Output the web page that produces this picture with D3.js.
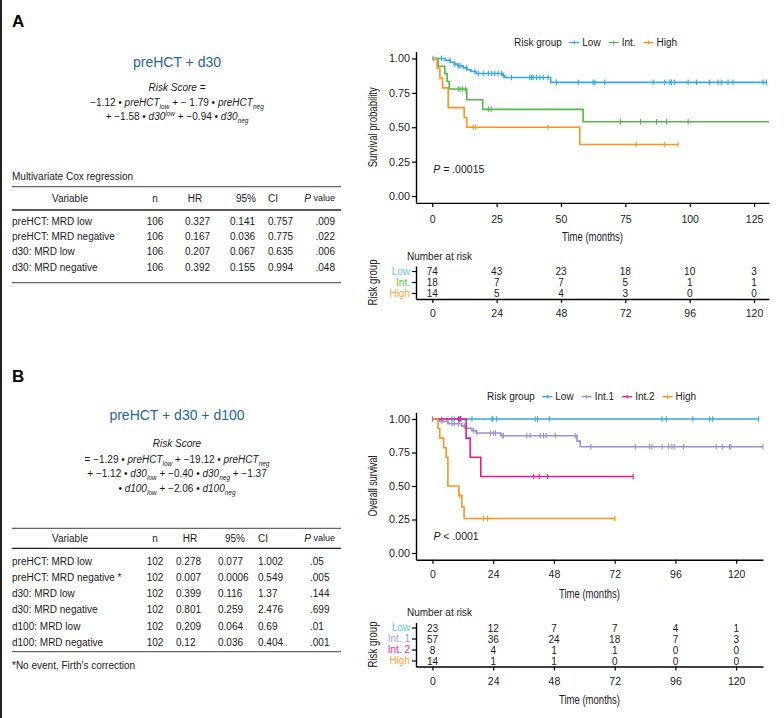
<!DOCTYPE html>
<html><head><meta charset="utf-8">
<script src="https://cdn.jsdelivr.net/npm/d3@7"></script>
<style>
body{margin:0;background:#fff}
svg{display:block}
text{font-family:"Liberation Sans",Arial,Helvetica,sans-serif;fill:#1a1a1a}
</style>
</head><body>
<svg id="c" width="784" height="718"></svg>
<script>
// ---------------- DATA ----------------
const kmTicksA = [0, 25, 50, 75, 100, 125];
const kmTicksB = [0, 24, 48, 72, 96, 120];
const riskTimes = [0, 24, 48, 72, 96, 120];
const survTicks = [0, 0.25, 0.5, 0.75, 1];

// Panel A groups
const groupsA = ["Low", "Int.", "High"];
const riskLabelsA = ["Low", "Int.", "High"];
const stepsA_Low = [[0,1],[5,0.986],[7,0.973],[8.5,0.959],[10,0.946],[12,0.932],[13.5,0.918],[15,0.905],[17,0.891],[27.5,0.876],[28.2,0.862],[46,0.826]];
const censA_Low = [0.4,3.6,6.9,8.8,10.1,10.8,13.4,16.6,17.9,19.8,21.8,23.1,24.3,25.6,26.9,27.6,30.8,37.9,38.6,39.2,40.5,41.8,43.1,45.0,48.3,56.7,62.5,63.2,67.0,85.8,90.3,92.3,92.9,94.2,99.4,102.6,107.8,111.0,112.3,114.9,116.8,128.5,129.8];
const stepsA_Int = [[0,1],[2.3,0.944],[4.9,0.889],[5.8,0.833],[6.6,0.778],[13.4,0.700],[19.6,0.630],[58.6,0.540]];
const censA_Int = [10.1,10.8,11.8,13.0,21.8,22.9,73.1,80.9,87.1,91.0,99.4];
const stepsA_High = [[0,1],[1.9,0.929],[3.0,0.857],[4.0,0.786],[6.2,0.643],[12.4,0.571],[13.4,0.500],[57.3,0.375]];
const censA_High = [15.9,16.9,45.0,79.2,90.3,95.5];
const endA = [129.8, 130.8, 95.5];
const riskA_Low = [74, 43, 23, 18, 10, 3];
const riskA_Int = [18, 7, 7, 5, 1, 1];
const riskA_High = [14, 5, 4, 3, 0, 0];

// Panel B groups
const groupsB = ["Low", "Int.1", "Int.2", "High"];
const riskLabelsB = ["Low", "Int. 1", "Int. 2", "High"];
const stepsB_Low = [[0,1]];
const censB_Low = [0,3.7,7.7,8.6,10.7,11.2,15.6,23.5,23.9,25.4,40.6,41.5,46.2,90.7,92.4,102.9,109.5,110.7,128.9];
const stepsB_Int1 = [[0,1],[2.8,0.982],[6.3,0.965],[11.6,0.947],[13.3,0.930],[15.6,0.912],[17.3,0.895],[27.0,0.875],[57.1,0.835],[58.4,0.793]];
const censB_Int1 = [3.7,6.0,7.7,8.6,10.3,12.6,16.3,17.6,22.9,24.2,24.9,27.5,28.1,37.3,38.6,42.6,43.9,44.9,48.5,56.4,62.6,80.1,85.7,86.7,90.7,93.3,94.6,95.5,99.2,112.1,114.7,117.4,117.9,130.6];
const stepsB_Int2 = [[0,1],[13.3,0.857],[14.9,0.714],[19.1,0.571]];
const censB_Int2 = [10.3,11.1,40.0,42.2,45.5,79.3];
const stepsB_High = [[0,1],[2.2,0.929],[2.9,0.857],[4.4,0.786],[5.4,0.714],[6.1,0.5],[10.4,0.429],[11.6,0.343],[12.5,0.257]];
const censB_High = [10.7,20.1,21.8,72.1];
const endB = [128.9, 130.6, 79.3, 72.1];
const riskB_Low = [23, 12, 7, 7, 4, 1];
const riskB_Int1 = [57, 36, 24, 18, 7, 3];
const riskB_Int2 = [8, 4, 1, 1, 0, 0];
const riskB_High = [14, 1, 1, 0, 0, 0];

// Cox tables
const coxVarA = ["preHCT: MRD low", "preHCT: MRD negative", "d30: MRD low", "d30: MRD negative"];
const coxNA = ["106", "106", "106", "106"];
const coxHRA = ["0.327", "0.167", "0.207", "0.392"];
const coxLoA = ["0.141", "0.036", "0.067", "0.155"];
const coxHiA = ["0.757", "0.775", "0.635", "0.994"];
const coxPA = [".009", ".022", ".006", ".048"];

const coxVarB = ["preHCT: MRD low", "preHCT: MRD negative *", "d30: MRD low", "d30: MRD negative", "d100: MRD low", "d100: MRD negative"];
const coxNB = ["102", "102", "102", "102", "102", "102"];
const coxHRB = ["0.278", "0.007", "0.399", "0.801", "0.209", "0.12"];
const coxLoB = ["0.077", "0.0006", "0.116", "0.259", "0.064", "0.036"];
const coxHiB = ["1.002", "0.549", "1.37", "2.476", "0.69", "0.404"];
const coxPB = [".05", ".005", ".144", ".699", ".01", ".001"];

// ---------------- STYLE ----------------
const colA = ["#33a9e1", "#52b848", "#f7951f"];
const colB = ["#33a9e1", "#9d8fd0", "#ea1a8c", "#f7951f"];
const riskColA = ["#5cc3ef", "#5bbf4f", "#f9a63c"];
const riskColB = ["#5cc3ef", "#a99dd8", "#ec2a93", "#f9a63c"];
const FONT = '"Liberation Sans",Arial,sans-serif';
const titleBlue = "#2566a0";

const svg = d3.select("#c");

// condensed axis title: regular font squeezed to the measured width
function narrowText(sel, txt, width){
  sel.attr("font-family",FONT).attr("font-size",12.5).text(txt)
     .attr("textLength", width).attr("lengthAdjust","spacingAndGlyphs");
  return sel;
}

// left border line
svg.append("line").attr("x1",1).attr("x2",1).attr("y1",0).attr("y2",718).attr("stroke","#222").attr("stroke-width",2);

// panel letters
svg.append("text").attr("x",12).attr("y",27).attr("font-size",17).attr("font-weight","bold").style("fill","#000").text("A");
svg.append("text").attr("x",12).attr("y",382).attr("font-size",17).attr("font-weight","bold").style("fill","#000").text("B");

// ---------------- helpers ----------------
function survAt(steps, t){ let s = 1; for (const [ti, si] of steps) if (ti <= t) s = si; return s; }

function styleAxis(g, fs){
  g.select(".domain").attr("stroke","#000").attr("stroke-width",1.4);
  g.selectAll(".tick line").attr("stroke","#000").attr("stroke-width",1.2);
  g.selectAll(".tick text").attr("font-size",fs).attr("font-family",FONT).style("fill","#222");
}

function drawKM(cfg){
  const x = d3.scaleLinear().domain(cfg.xDomain).range([cfg.left, cfg.right]);
  const y = d3.scaleLinear().domain([-0.05, 1.05]).range([cfg.bottom, cfg.top]);
  const g = svg.append("g");
  const ya = g.append("g").attr("transform",`translate(${cfg.left},0)`)
    .call(d3.axisLeft(y).tickValues(survTicks).tickFormat(d3.format(".2f")).tickSize(4).tickPadding(2).tickSizeOuter(0));
  styleAxis(ya, 10.8);
  const xa = g.append("g").attr("transform",`translate(0,${cfg.bottom})`)
    .call(d3.axisBottom(x).tickValues(cfg.xTicks).tickSize(4).tickPadding(cfg.xPad).tickSizeOuter(0));
  styleAxis(xa, 10.5);
  const line = d3.line().x(d => x(d[0])).y(d => y(d[1])).curve(d3.curveStepAfter);
  cfg.steps.forEach((st, i) => {
    const pts = st.concat([[cfg.ends[i], st[st.length-1][1]]]);
    g.append("path").attr("d", line(pts)).attr("fill","none").attr("stroke", cfg.colors[i]).attr("stroke-width",1.6);
    g.selectAll(null).data(cfg.cens[i]).enter().append("line")
      .attr("x1", d => x(d)).attr("x2", d => x(d))
      .attr("y1", d => y(survAt(st, d)) - 2.8).attr("y2", d => y(survAt(st, d)) + 2.8)
      .attr("stroke", cfg.colors[i]).attr("stroke-width",1.1);
  });
  narrowText(g.append("text").attr("x", (cfg.left + cfg.right)/2).attr("y", cfg.bottom + 38)
    .attr("text-anchor","middle"), "Time (months)", 61);
  narrowText(g.append("text").attr("transform",`translate(${cfg.left-43},${(y(0)+y(1))/2}) rotate(-90)`)
    .attr("text-anchor","middle").attr("dominant-baseline","central"), cfg.yTitle, cfg.yTitleW);
  const pt = g.append("text").attr("x", x(0)+1).attr("y", cfg.pY).attr("dominant-baseline","central").attr("font-size",10.5);
  pt.append("tspan").attr("font-style","italic").text("P");
  pt.append("tspan").text(cfg.pText);
  let lx = cfg.legX;
  const ly = cfg.legY;
  const lt = g.append("text").attr("x", lx).attr("y", ly).attr("dominant-baseline","central").attr("font-size",10).text("Risk group");
  lx += lt.node().getComputedTextLength() + 7.5;
  cfg.groups.forEach((gname, i) => {
    g.append("line").attr("x1", lx).attr("x2", lx + 10).attr("y1", ly).attr("y2", ly).attr("stroke", cfg.colors[i]).attr("stroke-width",1.4);
    g.append("line").attr("x1", lx + 5).attr("x2", lx + 5).attr("y1", ly - 2).attr("y2", ly + 2).attr("stroke", cfg.colors[i]).attr("stroke-width",1);
    const t = g.append("text").attr("x", lx + 13).attr("y", ly).attr("dominant-baseline","central").attr("font-size",10).text(gname);
    lx += 13 + t.node().getComputedTextLength() + 8;
  });
}

function drawRisk(cfg){
  const x = d3.scaleLinear().domain(cfg.xDomain).range([cfg.left, cfg.right]);
  const y = d3.scaleBand().domain(cfg.labels).range([cfg.top, cfg.bottom]);
  const g = svg.append("g");
  const ya = g.append("g").attr("transform",`translate(${cfg.left},0)`)
    .call(d3.axisLeft(y).tickSize(4).tickPadding(2).tickSizeOuter(0));
  styleAxis(ya, 10);
  ya.selectAll(".tick text").each(function(d, i){ d3.select(this).style("fill", cfg.labelColors[i]); });
  const xa = g.append("g").attr("transform",`translate(0,${cfg.bottom})`)
    .call(d3.axisBottom(x).tickValues(riskTimes).tickSize(4).tickPadding(7).tickSizeOuter(0));
  styleAxis(xa, 10.5);
  cfg.rows.forEach((row, i) => {
    g.selectAll(null).data(row).enter().append("text")
      .attr("x", (d, j) => x(riskTimes[j])).attr("y", y(cfg.labels[i]) + y.bandwidth()/2)
      .attr("text-anchor","middle").attr("dominant-baseline","central").attr("font-size",10).text(d => d);
  });
  g.append("text").attr("x", cfg.left - 9).attr("y", cfg.top - 10).attr("dominant-baseline","central").attr("font-size",10).text("Number at risk");
  narrowText(g.append("text").attr("transform",`translate(${cfg.left-43},${(cfg.top+cfg.bottom)/2}) rotate(-90)`)
    .attr("text-anchor","middle").attr("dominant-baseline","central"), "Risk group", 46);
  if (cfg.xTitle) {
    narrowText(g.append("text").attr("x",(cfg.left+cfg.right)/2).attr("y", cfg.bottom + 37)
      .attr("text-anchor","middle"), "Time (months)", 61);
  }
}

function formulaLine(x, y, parts){
  const t = svg.append("text").attr("x", x).attr("y", y).attr("text-anchor","middle").attr("font-size",10);
  let shift = 0;
  parts.forEach(([s, k]) => {
    const sp = t.append("tspan").text(s);
    let target = 0;
    if (k === "sub") { sp.attr("font-size",6.5).attr("font-style","italic"); target = 3; }
    else if (k === "sup") { sp.attr("font-size",6.5).attr("font-style","italic"); target = -4; }
    else if (k === "i") sp.attr("font-style","italic");
    if (target !== shift) { sp.attr("dy", target - shift); shift = target; }
  });
}

function drawTable(cfg){
  const g = svg.append("g");
  const L = 12, R = 341;
  g.append("line").attr("x1",L).attr("x2",R).attr("y1",cfg.rTop).attr("y2",cfg.rTop).attr("stroke","#666").attr("stroke-width",1.3);
  g.append("line").attr("x1",L).attr("x2",R).attr("y1",cfg.rHead).attr("y2",cfg.rHead).attr("stroke","#222").attr("stroke-width",1.3);
  g.append("line").attr("x1",L).attr("x2",R).attr("y1",cfg.rBot).attr("y2",cfg.rBot).attr("stroke","#666").attr("stroke-width",1.3);
  const hy = (cfg.rTop + cfg.rHead)/2;
  const ht = (x, s, a) => g.append("text").attr("x",x).attr("y",hy).attr("text-anchor",a).attr("dominant-baseline","central").attr("font-size",10).text(s);
  const c = cfg.cols;
  ht(70, "Variable", "middle");
  ht(c.n, "n", "middle");
  ht(c.hrH, "HR", "middle");
  ht(c.loH, "95%", "end");
  ht(c.hi, "CI", "start");
  const ph = g.append("text").attr("x",335).attr("y",hy).attr("text-anchor","end").attr("dominant-baseline","central").attr("font-size",10);
  ph.append("tspan").attr("font-style","italic").text("P");
  ph.append("tspan").attr("font-size",9).text(" value");
  cfg.vars.forEach((v, i) => {
    const ry = cfg.row0 + i*cfg.rowH;
    const tt = (x, s, a) => g.append("text").attr("x",x).attr("y",ry).attr("text-anchor",a).attr("dominant-baseline","central").attr("font-size",10).text(s);
    tt(L, v, "start");
    tt(c.n, cfg.n[i], "middle");
    tt(c.hr, cfg.hr[i], "start");
    tt(c.lo, cfg.lo[i], "start");
    tt(c.hi, cfg.hi[i], "start");
    tt(c.p, cfg.p[i], c.pAnchor);
  });
}

// ---------------- PANEL A ----------------
svg.append("text").attr("x",177).attr("y",61.5).attr("text-anchor","middle").attr("dominant-baseline","central").attr("font-size",14).style("fill",titleBlue).text("preHCT + d30");
formulaLine(177, 91, [["Risk Score","i"],[" =","n"]]);
formulaLine(177, 105.5, [["−1.12 • ","n"],["preHCT","i"],["low","sub"],[" + − 1.79 • ","n"],["preHCT","i"],["neg","sub"]]);
formulaLine(177, 120, [["+ −1.58 • ","n"],["d30","i"],["low","sup"],[" + −0.94 • ","n"],["d30","i"],["neg","sub"]]);

svg.append("text").attr("x",12).attr("y",176).attr("dominant-baseline","central").attr("font-size",10).text("Multivariate Cox regression");
drawTable({rTop:186.7, rHead:210, rBot:282.7, row0:221, rowH:15.4,
  cols:{n:155, hrH:195, hr:185, loH:256, lo:230, hi:268, p:335, pAnchor:"end"},
  vars:coxVarA, n:coxNA, hr:coxHRA, lo:coxLoA, hi:coxHiA, p:coxPA});

drawKM({left:416, right:769, top:51.6, bottom:202.9, xDomain:[-6.3,130.8], xTicks:kmTicksA, xPad:8.5,
  steps:[stepsA_Low, stepsA_Int, stepsA_High], cens:[censA_Low, censA_Int, censA_High], ends:endA,
  colors:colA, groups:groupsA, yTitle:"Survival probability", yTitleW:80, pY:169, pText:" = .00015", legX:514, legY:42.5});

drawRisk({left:416, right:769, top:266, bottom:299, xDomain:[-6.1,125.6], labels:riskLabelsA, labelColors:riskColA,
  rows:[riskA_Low, riskA_Int, riskA_High], xTitle:false});

// ---------------- PANEL B ----------------
svg.append("text").attr("x",177).attr("y",415).attr("text-anchor","middle").attr("dominant-baseline","central").attr("font-size",14).style("fill",titleBlue).text("preHCT + d30 + d100");
formulaLine(177, 446.5, [["Risk Score","i"]]);
formulaLine(177, 463, [["= −1.29 • ","n"],["preHCT","i"],["low","sub"],[" + −19.12 • ","n"],["preHCT","i"],["neg","sub"]]);
formulaLine(177, 477, [["+ −1.12 • ","n"],["d30","i"],["low","sub"],[" + −0.40 • ","n"],["d30","i"],["neg","sub"],[" + −1.37","n"]]);
formulaLine(177, 491.5, [["• ","n"],["d100","i"],["low","sub"],[" + −2.06 • ","n"],["d100","i"],["neg","sub"]]);

drawTable({rTop:528.3, rHead:548.3, rBot:651.7, row0:561, rowH:16.3,
  cols:{n:155, hrH:190, hr:176, loH:245, lo:218, hi:258, p:310, pAnchor:"start"},
  vars:coxVarB, n:coxNB, hr:coxHRB, lo:coxLoB, hi:coxHiB, p:coxPB});
svg.append("text").attr("x",12).attr("y",665.7).attr("dominant-baseline","central").attr("font-size",10).text("*No event, Firth's correction");

drawKM({left:416, right:763, top:412.3, bottom:559.7, xDomain:[-6.5,130.6], xTicks:kmTicksB, xPad:7,
  steps:[stepsB_Low, stepsB_Int1, stepsB_Int2, stepsB_High], cens:[censB_Low, censB_Int1, censB_Int2, censB_High], ends:endB,
  colors:colB, groups:groupsB, yTitle:"Overall survival", yTitleW:61, pY:535.7, pText:" < .0001", legX:487, legY:396.7});

drawRisk({left:416, right:763, top:622.5, bottom:666.5, xDomain:[-6.5,130.6], labels:riskLabelsB, labelColors:riskColB,
  rows:[riskB_Low, riskB_Int1, riskB_Int2, riskB_High], xTitle:true});
</script>
</body></html>
